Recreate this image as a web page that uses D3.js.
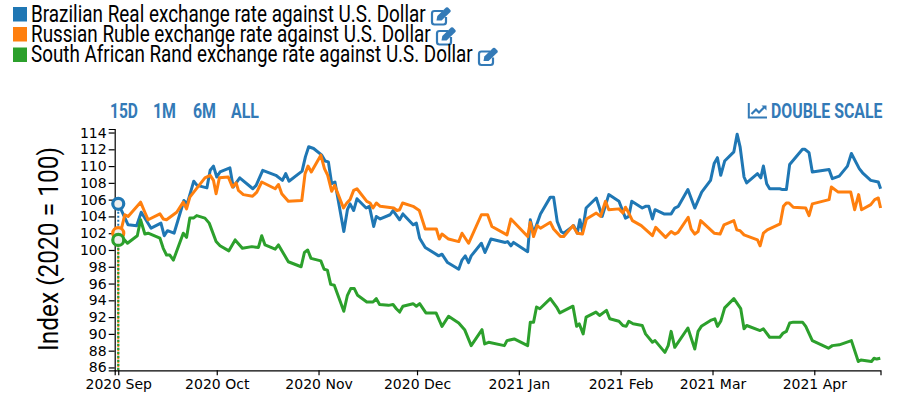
<!DOCTYPE html>
<html>
<head>
<meta charset="utf-8">
<script src="https://cdn.jsdelivr.net/npm/d3@7"></script>
<style>
  html, body { margin: 0; padding: 0; background: #fff; }
  svg { display: block; }
  .axis text { font-family: "DejaVu Sans", sans-serif; font-size: 14px; fill: #000; }
  .axis path, .axis line { stroke: #000; stroke-width: 1.2px; }
  .legend text { font-family: Roboto, sans-serif; font-size: 24px; fill: #000; }
  .btn { font-family: Roboto, sans-serif; font-weight: 700; font-size: 20px; fill: #337ab7; }
</style>
</head>
<body>
<svg id="chart" width="900" height="400"></svg>
<script>
// days are counted from 2020-09-01
var brlDays = [0,1,3,5.6,7,10,13,14,15,17,20,21,23,24,27,28,29,30,31,34,35,37,41,42,44,48,50,51,52,56,57,58,59.5,62,63,64,65,66,68.7,69.8,70.6,71.7,72.7,75.5,76.5,77.8,78.6,79.8,82.8,83.7,85.7,86.7,89.8,90.8,91.8,93.5,97.6,98.6,100.3,103.7,104.7,105.7,106.7,107.5,110.6,111.7,113.5,117.9,118.6,119.6,120.4,124.7,125.5,126.5,128.6,131.6,132.6,133.7,134.9,135.7,138.7,139.8,140.6,141.4,142.5,145.6,147.4,149.4,152.5,154.5,155.5,156.4,159.6,160.6,161.6,162.7,163.5,166.2,168.4,169.5,170.6,173.5,175.6,177.7,180.4,181.5,182.5,183.5,184.7,187.5,188.5,189.4,190.6,191.4,194.7,195.7,196.5,197.5,198.4,201.5,202.3,203.5,204.5,208.4,209.1,210.4,211.4,216.5,217.5,219.6,222.1,223.3,225.7,226.7,229.2,231.5,232.2];
var brlValues = [105.5,104.7,103,102.9,104.5,102.6,103.2,101.7,102.3,102,105.9,105.5,108.2,107.7,107.4,109.5,110,108.7,109.3,109.8,107.5,108.6,107.3,107.7,109.5,108.9,108.3,109.1,108.2,109.4,111.1,112.3,112.1,111.3,110.6,110.5,107.9,108.1,102.2,104.8,105.5,104.7,106.1,105,105.2,102.8,104,103.7,104.2,104.7,103.6,104.3,103,103.2,101.4,100.3,99.3,99.5,98.5,97.7,98.8,99.3,98.5,99.3,100.8,99.7,101.3,100.9,101,100.5,100.9,99.8,103.6,102,104.3,106.3,106.3,103.4,102.2,102,102.9,102,103.6,102.2,105,106.2,104,106.6,105.8,103.8,104,105.8,105,105.2,105.2,103.7,104.8,104.3,104.3,105,105.2,107.2,105,106.9,108.3,110.3,111,108.9,110.6,111.7,113.8,112.3,108.7,108,109.1,108.6,110,107.9,107.3,107.3,107.2,107.2,110.2,112,112,111.6,109.3,109.6,108.5,108.8,110,111.5,109.7,109.2,108.3,108.1,107.3];

var rubDays = [0,1,2,3,6.8,8.1,9.1,12.7,13.7,14.7,17.8,19.8,20.8,21.8,26.4,28,29,29.8,30.8,33.5,34.8,35.9,36.6,38.1,40.9,42.2,43.7,47.8,48.8,49.8,51.8,55.9,56.9,57.8,58.8,61.7,62.8,63.8,65,65.9,68.6,69.6,70.6,71.7,72.7,75.7,76.7,77.6,78.6,79.8,83.9,84.9,85.7,86.6,89.8,91.7,93.5,96.9,97.8,98.6,100.6,103.7,104.7,106.7,110.6,112.5,113.8,118.4,119.6,124.7,125.5,126.5,127.6,128.6,131.6,132.6,134.7,135.7,138.5,139.8,141.4,142.6,145.6,146.9,148.4,149.4,152.5,153.7,154.5,155.5,156.6,159.3,162.7,163.7,166.7,168.4,169.5,170.5,173.6,174.5,175.6,176.6,177.4,181.5,183.3,184.5,187.5,188.4,189.4,190.6,194.7,195.5,196.5,197.7,201.6,202.6,203.5,204.3,205.6,209.4,210.4,211.4,216.5,217.2,219.3,223.1,224.3,225.5,226.4,229.2,230.4,231.5,232.2];
var rubValues = [102,102.6,104.2,104,105.7,104.5,103.6,104.3,103.7,103.6,104.5,105.7,104.9,106.3,108.6,108.9,108.3,106.7,108.6,108.7,107.5,108,107.1,106.6,106.4,106.9,108.1,107.3,107.8,106.7,105.8,105.9,109.1,110,109.3,111.3,109.7,108.9,107,107.7,105,105.6,106,107.1,107.3,105.8,105.6,105,105.6,105.2,105,104.7,104.8,105.6,105.2,104.7,102.5,102.5,101.3,101.9,101.3,101,102,100.8,104.2,104.2,102.8,101.8,103.7,101.6,103.3,101.6,102.9,102.6,103.3,102.5,101.6,101.6,102.9,102,101.9,103.7,104.4,104,105.8,104.8,104.9,104.4,105.1,104.4,103.5,102.9,101.7,102.7,101.5,102.2,101.9,102.1,103.9,102.5,101.9,102.2,103.5,102,101.9,103,103.5,102.4,102.3,101.8,101.2,100.5,102,102.4,103.1,105.2,105.6,105.6,105.1,105,104.1,105.5,106,107.5,106.9,106.9,104.8,106.6,104.8,105.4,106,106.2,105];

var zarDays = [0,1,2.8,5.8,6.8,8.1,9.1,12.7,13.7,14.7,15.7,16.8,19.8,20.8,21.8,22.9,23.9,26.4,27.7,29.8,31,33.7,35.6,37.8,40.7,42.7,43.7,44.7,47.8,48.8,51.8,55.7,56.7,57.7,58.7,61.7,62.7,63.7,64.7,65.8,68.7,69.8,70.8,71.9,72.9,75.7,77.6,78.6,79.6,82.3,83.7,84.7,85.7,86.7,89.8,90.8,91.8,93.7,96.8,98.6,100.6,103.7,105.5,107.5,110.8,111.6,112.8,117.6,118.4,120.6,124.7,125.5,126.5,127.4,128.4,131.6,133.5,134.5,138.5,139.6,140.4,141.6,142.5,145.5,146.6,148.7,149.7,152.5,153.7,154.7,155.5,156.8,159.6,160.6,162.7,163.5,166.5,167.5,168.4,169.5,173.5,175.6,176.6,177.6,180.4,181.7,182.5,183.5,184.7,187.5,189.6,190.6,191.4,195.5,196.5,198.4,201.5,202.5,203.5,204.5,205.6,208.4,209.4,211.4,216.3,217.5,219.6,223.3,225.4,226.2,229.4,230.2,231,232.1];
var zarValues = [101.2,101.6,100.8,101.7,103.6,101.9,102,101.4,100.2,99.4,99.4,98.8,102,101.5,103.8,103.8,104.1,103.8,103.2,101,100.5,99.9,101.2,100.2,100.4,100.3,101.7,100.6,100.1,100.6,98.6,98,99.7,100,99,98.7,97.7,97.6,95.9,95.8,92.7,94.6,95.4,95.4,94.6,93.8,93.8,94.2,93.5,93.4,93.5,93,92.6,93.3,93.6,93.3,93.6,92.5,92.5,90.9,92.1,91.3,90.5,88.6,90.5,88.8,89,88.6,89.2,89.4,88.6,91.4,91.4,93.2,93,94.2,93.2,92.5,93.3,90.9,91.2,90,92,92.6,92.2,92.8,91.8,91.5,91,90.9,91.5,91.2,91,90,89,89.2,87.8,88.6,90.3,88.4,90.7,88.2,90.3,90.9,91.6,91.8,90.9,91.5,93.1,94.2,93,90.6,91,90.4,90.6,89.6,89.6,90.1,90.3,91.3,91.4,91.4,90.9,89.2,88.3,88.6,88.7,89.2,86.7,86.9,86.7,87.1,87,87.1];

var seriesNames = ["Brazilian Real exchange rate against U.S. Dollar", "Russian Ruble exchange rate against U.S. Dollar", "South African Rand exchange rate against U.S. Dollar"];
var seriesColors = ["#1f77b4", "#ff7f0e", "#2ca02c"];
var yTicks = [86,88,90,92,94,96,98,100,102,104,106,108,110,112,114];
var xTicks = ["2020-09-01","2020-10-01","2020-11-01","2020-12-01","2021-01-01","2021-02-01","2021-03-01","2021-04-01"];
var rangeButtons = ["15D", "1M", "6M", "ALL"];

var startDate = new Date("2020-09-01");
function toDate(d) { return new Date(startDate.getTime() + d * 864e5); }

var series = [
  {days: brlDays, values: brlValues},
  {days: rubDays, values: rubValues},
  {days: zarDays, values: zarValues}
];

// no condensed Roboto is installed, so squeeze the text to the wanted width
function squeeze(sel, px, py, width) {
  var natural = sel.node().getComputedTextLength();
  sel.attr("transform", "translate(" + px + "," + py + ") scale(" + (width / natural) + ",1)");
}

var svg = d3.select("#chart");
var x = d3.scaleUtc().domain([new Date("2020-08-30T22:00:00Z"), new Date("2021-04-21T04:00:00Z")]).range([114.7, 880.5]);
var y = d3.scaleLinear().domain([85.66, 114.42]).range([370.3, 129]);

// axes
svg.append("g").attr("class", "axis")
  .attr("transform", "translate(0,370.3)")
  .call(d3.axisBottom(x).tickValues(xTicks.map(function(t) { return new Date(t); }))
    .tickFormat(d3.utcFormat("%Y %b")).tickSize(5).tickPadding(4));
svg.append("g").attr("class", "axis")
  .attr("transform", "translate(114.7,0)")
  .call(d3.axisLeft(y).tickValues(yTicks).tickFormat(d3.format("d")).tickSize(6).tickPadding(2));

var yLabel = svg.append("text")
  .attr("text-anchor", "middle")
  .style("font-family", "Roboto, sans-serif").style("font-size", "27.5px")
  .text("Index (2020 = 100)");
yLabel.attr("transform", "translate(58,249) rotate(-90) scale(" + (204 / yLabel.node().getComputedTextLength()) + ",1)");

// lines
var line = d3.line()
  .x(function(d) { return x(d.date); })
  .y(function(d) { return y(d.value); });

series.forEach(function(s, i) {
  var pts = s.days.map(function(d, j) { return {date: toDate(d), value: s.values[j]}; });
  svg.append("line")
    .attr("x1", x(pts[0].date)).attr("x2", x(pts[0].date))
    .attr("y1", y(pts[0].value)).attr("y2", 370)
    .attr("stroke", seriesColors[i]).attr("stroke-width", 2).attr("stroke-dasharray", "2,2");
  svg.append("path").datum(pts)
    .attr("fill", "none").attr("stroke", seriesColors[i])
    .attr("stroke-width", 3).attr("stroke-linejoin", "round")
    .attr("d", line);
});
series.forEach(function(s, i) {
  svg.append("circle")
    .attr("cx", x(toDate(s.days[0]))).attr("cy", y(s.values[0])).attr("r", 5.5)
    .attr("fill", "#eee").attr("stroke", seriesColors[i]).attr("stroke-width", 3.2);
});

// edit icon from the legend
function editIcon(g) {
  g.append("path")
    .attr("d", "M12 4H3.5Q1 4 1 6.5V15Q1 17.5 3.5 17.5H12.5Q15 17.5 15 15V10")
    .attr("fill", "none").attr("stroke", "#337ab7").attr("stroke-width", 2.2);
  g.append("path")
    .attr("d", "M5.5 13.5L6.3 9L15 0.6Q16 -0.2 17 0.6L19.4 3Q20.2 4 19.4 5L10.6 13.5Z")
    .attr("fill", "#337ab7");
}

var legend = svg.append("g").attr("class", "legend");
var legendWidths = [395, 400, 442];
var rowY = [7, 27, 47.5];
seriesNames.forEach(function(name, i) {
  var row = legend.append("g").attr("transform", "translate(0," + rowY[i] + ")");
  row.append("rect").attr("x", 13).attr("width", 14).attr("height", 14.5).attr("fill", seriesColors[i]);
  squeeze(row.append("text").text(name), 31, 14.5, legendWidths[i]);
  editIcon(row.append("g").attr("transform", "translate(" + (31 + legendWidths[i] + 5) + ",0)"));
});

// range buttons
var buttonX = [110, 153, 193, 231];
var buttonW = [28, 23, 23, 28];
rangeButtons.forEach(function(b, i) {
  squeeze(svg.append("text").attr("class", "btn").text(b), buttonX[i], 118, buttonW[i]);
});
squeeze(svg.append("text").attr("class", "btn").text("DOUBLE SCALE"), 771, 118, 111.5);

var scaleIcon = svg.append("g").attr("transform", "translate(748,103)");
scaleIcon.append("path").attr("d", "M0.8 0V14.5H19").attr("fill", "none").attr("stroke", "#337ab7").attr("stroke-width", 2);
scaleIcon.append("path").attr("d", "M3.5 11L8 6.5L11 9.5L16.5 4").attr("fill", "none").attr("stroke", "#337ab7").attr("stroke-width", 2.2);
scaleIcon.append("path").attr("d", "M13.5 2.5H18.5V7.5Z").attr("fill", "#337ab7");
</script>
</body>
</html>
